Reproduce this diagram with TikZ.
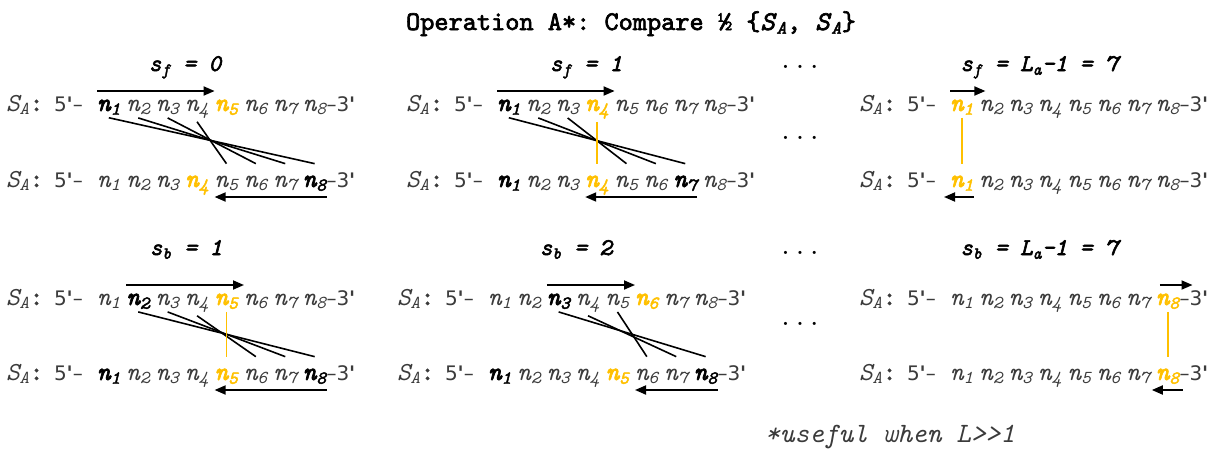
\documentclass[tikz,border=0pt]{standalone}
\usepackage{fontspec}
\newfontfamily\endfont{DejaVu Sans}
\newfontfamily\heavytt[FakeBold=2.5,ItalicFont=lmmono10-italic.otf]{lmmono10-regular.otf}
\usepackage{tikz}
\usetikzlibrary{arrows.meta}
\definecolor{SeqInk}{HTML}{3B3B3B}
\definecolor{HitGold}{HTML}{FFC000}
\frenchspacing
\tikzset{
  figure/.style={x=1pt,y=-1pt,>={Triangle[length=11pt,width=9pt]}},
  seq/.style={inner sep=0pt,outer sep=0pt,anchor=base west,text=SeqInk,font=\fontsize{26}{28}\selectfont\ttfamily\itshape},
  nplain/.style={},
  nbold/.style={text=black,font=\fontsize{26}{28}\selectfont\heavytt\itshape},
  ngold/.style={text=HitGold,font=\fontsize{26}{28}\selectfont\heavytt\itshape},
  endtxt/.style={inner sep=0pt,outer sep=0pt,anchor=base west,text=SeqInk,font=\fontsize{20}{24}\selectfont\endfont},
  head/.style={anchor=base,inner sep=0pt,font=\fontsize{24}{26}\selectfont\heavytt\itshape},
  dots/.style={anchor=base,inner sep=0pt,font=\fontsize{28}{30}\selectfont\ttfamily},
  pair/.style={line width=1.6pt},
  match/.style={draw=HitGold,line width=1.8pt},
  slide/.style={->,line width=1.8pt},
}
% one strand: name, x of n1, baseline, styles of n1..n8
\newcommand\seqrow[4]{%
  \node[seq] (#1S) at (#2-91,#3) {S\textsubscript{A}{\heavytt\upshape:}};
  \node[endtxt] (#1five) at (#2-43,#3) {5\textbf{'}–};
  \foreach \st [count=\i] in {#4}
    \node[seq,\st] (#1\i) at ({#2+29.4*(\i-1)},#3) {n\textsubscript{\i}};
  \node[endtxt] (#1end) at (#18.base east) {–3\textbf{'}};
}

\begin{document}
\begin{tikzpicture}[figure]
  \useasboundingbox (0,0) rectangle (1228,448);
  \node[anchor=base,inner sep=0pt,font=\fontsize{27}{29}\selectfont\heavytt] (title) at (631,30)
    {Operation A*: Compare ½ \{\textit{S}\textsubscript{\textit{A}}, \textit{S}\textsubscript{\textit{A}}\}};

  % forward shifts
  \node[head] (hf0) at (185,71) {s\textsubscript{f} = 0};
  \node[head] (hf1) at (586,71) {s\textsubscript{f} = 1};
  \node[head] (hf7) at (1039,71) {s\textsubscript{f} = L\textsubscript{a}-1 = 7};
  \node[dots] (dfa) at (800,68) {...};
  \node[dots] (dfb) at (800,139) {...};

  \seqrow{f0up}{97}{111}{nbold,nplain,nplain,nplain,ngold,nplain,nplain,nplain}
  \seqrow{f0lo}{97}{187}{nplain,nplain,nplain,ngold,nplain,nplain,nplain,nbold}
  \foreach \a/\b in {1/8,2/7,3/6,4/5}
    \draw[pair] ([yshift=-3pt]f0up\a.south) -- ([yshift=12pt]f0lo\b.north);
  \draw[slide] ([yshift=20pt]f0up1.base west) -- ([yshift=20pt]f0up5.base west);
  \draw[slide] ([yshift=-10pt]f0lo8.base east) -- ([yshift=-10pt]f0lo5.base west);

  \seqrow{f1up}{497}{111}{nbold,nplain,nplain,ngold,nplain,nplain,nplain,nplain}
  \seqrow{f1lo}{497}{187}{nbold,nplain,nplain,ngold,nplain,nplain,nbold,nplain}
  \foreach \a/\b in {1/7,2/6,3/5}
    \draw[pair] ([yshift=-3pt]f1up\a.south) -- ([yshift=12pt]f1lo\b.north);
  \draw[match] ([yshift=-3pt]f1up4.south) -- ([yshift=12pt]f1lo4.north);
  \draw[slide] ([yshift=20pt]f1up1.base west) -- ([yshift=20pt]f1up5.base west);
  \draw[slide] ([yshift=-10pt]f1lo7.base east) -- ([yshift=-10pt]f1lo4.base west);

  \seqrow{f7up}{950}{111}{ngold,nplain,nplain,nplain,nplain,nplain,nplain,nplain}
  \seqrow{f7lo}{950}{187}{ngold,nplain,nplain,nplain,nplain,nplain,nplain,nplain}
  \draw[match] ([yshift=-3pt]f7up1.south) -- ([yshift=12pt]f7lo1.north);
  \draw[slide] ([yshift=20pt]f7up1.base west) -- ([yshift=20pt,xshift=6pt]f7up2.base west);
  \draw[slide] ([yshift=-10pt]f7lo1.base east) -- ([yshift=-10pt,xshift=-6pt]f7lo1.base west);

  % backward shifts
  \node[head] (hb1) at (186,255) {s\textsubscript{b} = 1};
  \node[head] (hb2) at (576,255) {s\textsubscript{b} = 2};
  \node[head] (hb7) at (1039,255) {s\textsubscript{b} = L\textsubscript{a}-1 = 7};
  \node[dots] (dba) at (800,254) {...};
  \node[dots] (dbb) at (800,325) {...};

  \seqrow{b1up}{97}{305}{nplain,nbold,nplain,nplain,ngold,nplain,nplain,nplain}
  \seqrow{b1lo}{97}{380}{nbold,nplain,nplain,nplain,ngold,nplain,nplain,nbold}
  \foreach \a/\b in {2/8,3/7,4/6}
    \draw[pair] ([yshift=-3pt]b1up\a.south) -- ([yshift=12pt]b1lo\b.north);
  \draw[match] ([yshift=-3pt]b1up5.south) -- ([yshift=12pt]b1lo5.north);
  \draw[slide] ([yshift=20pt]b1up2.base west) -- ([yshift=20pt]b1up6.base west);
  \draw[slide] ([yshift=-10pt]b1lo8.base east) -- ([yshift=-10pt]b1lo5.base west);

  \seqrow{b2up}{488}{305}{nplain,nplain,nbold,nplain,nplain,ngold,nplain,nplain}
  \seqrow{b2lo}{488}{380}{nbold,nplain,nplain,nplain,ngold,nplain,nplain,nbold}
  \foreach \a/\b in {3/8,4/7,5/6}
    \draw[pair] ([yshift=-3pt]b2up\a.south) -- ([yshift=12pt]b2lo\b.north);
  \draw[slide] ([yshift=20pt]b2up3.base west) -- ([yshift=20pt]b2up6.base west);
  \draw[slide] ([yshift=-10pt]b2lo8.base east) -- ([yshift=-10pt]b2lo6.base west);

  \seqrow{b7up}{950}{305}{nplain,nplain,nplain,nplain,nplain,nplain,nplain,ngold}
  \seqrow{b7lo}{950}{380}{nplain,nplain,nplain,nplain,nplain,nplain,nplain,ngold}
  \draw[match] ([yshift=-3pt]b7up8.south) -- ([yshift=12pt]b7lo8.north);
  \draw[slide] ([yshift=20pt,xshift=4pt]b7up8.base west) -- ([yshift=20pt,xshift=13pt]b7up8.base east);
  \draw[slide] ([yshift=-10pt,xshift=3pt]b7lo8.base east) -- ([yshift=-10pt,xshift=-4pt]b7lo8.base west);

  \node[anchor=base west,inner sep=0pt,text=SeqInk,font=\fontsize{28}{30}\selectfont\ttfamily\itshape] (note) at (765,442)
    {*useful when L>{}>1};
\end{tikzpicture}
\end{document}
